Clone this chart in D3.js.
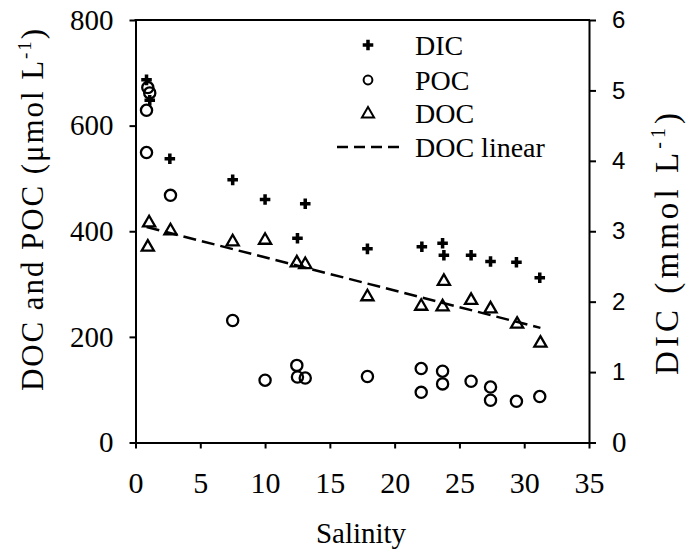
<!DOCTYPE html>
<html>
<head>
<meta charset="utf-8">
<script src="https://cdn.jsdelivr.net/npm/d3@7"></script>
<style>
  body { margin: 0; background: #fff; }
  svg { display: block; }
</style>
</head>
<body>
<script>
// salinity / DIC (mmol L-1, right axis)
var dicSal = [0.85, 1.1, 2.65, 7.5, 10.0, 12.5, 13.1, 17.9, 22.1, 23.7, 23.8, 25.9, 27.4, 29.4, 31.2];
var dicVal = [5.15, 4.86, 4.03, 3.73, 3.45, 2.90, 3.39, 2.75, 2.78, 2.83, 2.66, 2.66, 2.57, 2.56, 2.34];

// POC (umol L-1, left axis)
var pocSal = [0.95, 1.1, 0.85, 0.85, 2.7, 7.5, 10.0, 12.45, 12.5, 13.1, 17.9, 22.05, 22.05, 23.7, 23.7, 25.9, 27.4, 27.4, 29.4, 31.2];
var pocVal = [672, 662, 629, 549, 468, 231, 118, 146, 124, 122, 125, 140, 95, 135, 111, 116, 105, 80, 78, 87];

// DOC (umol L-1, left axis)
var docSal = [0.95, 1.05, 2.7, 7.5, 10.0, 12.45, 13.1, 17.9, 22.05, 23.7, 23.8, 25.9, 27.4, 29.45, 31.25];
var docVal = [370, 416, 401, 380, 383, 340, 337, 276, 258, 257, 305, 269, 253, 224, 188];

// DOC linear fit, end points
var fitSal = [0.86, 31.25];
var fitDoc = [408, 217];

var xTicks = [0, 5, 10, 15, 20, 25, 30, 35];
var yLeftTicks = [0, 200, 400, 600, 800];
var yRightTicks = [0, 1, 2, 3, 4, 5, 6];
var legendNames = ["DIC", "POC", "DOC", "DOC linear"];

var SERIF = "'Liberation Serif', 'DejaVu Serif', serif";
var SANS = "'Liberation Sans', Arial, sans-serif";

var width = 694, height = 552;
var x0 = 135.5, x1 = 589, yTop = 20, yBot = 442.5;

var svg = d3.select("body").append("svg")
    .attr("width", width)
    .attr("height", height);

var x = d3.scaleLinear().domain([0, 35]).range([x0, x1]);
var yL = d3.scaleLinear().domain([0, 800]).range([yBot, yTop]);
var yR = d3.scaleLinear().domain([0, 6]).range([yBot, yTop]);

// axes
var gx = svg.append("g")
    .attr("transform", "translate(0," + yBot + ")")
    .call(d3.axisBottom(x).tickValues(xTicks).tickSize(6).tickSizeOuter(0).tickPadding(23));
var gl = svg.append("g")
    .attr("transform", "translate(" + x0 + ",0)")
    .call(d3.axisLeft(yL).tickValues(yLeftTicks).tickSize(6).tickSizeOuter(0).tickPadding(16));
var gr = svg.append("g")
    .attr("transform", "translate(" + x1 + ",0)")
    .call(d3.axisRight(yR).tickValues(yRightTicks).tickFormat(d3.format("d"))
      .tickSize(7).tickSizeOuter(0).tickPadding(16));

[gx, gl, gr].forEach(function(g){
  g.attr("font-family", null).attr("font-size", null);
  g.select(".domain").attr("stroke", "#000").attr("stroke-width", 2);
  g.selectAll(".tick line").attr("stroke", "#000").attr("stroke-width", 2);
  g.selectAll("text").attr("fill", "#000");
});
gx.selectAll("text").style("font-family", SERIF).style("font-size", "30px");
gl.selectAll("text").style("font-family", SERIF).style("font-size", "29px");
gr.selectAll("text").style("font-family", SANS).style("font-size", "24px");
gr.selectAll("text").filter(function(d){ return d === 0; })
    .style("font-family", SERIF).style("font-size", "29px");

// top frame line
svg.append("line")
    .attr("x1", x(0) - 1).attr("x2", x(35) + 1)
    .attr("y1", yTop).attr("y2", yTop)
    .attr("stroke", "#000").attr("stroke-width", 2);

// axis titles
svg.append("text")
    .attr("x", 361).attr("y", 543)
    .attr("text-anchor", "middle")
    .style("font-family", SERIF)
    .style("font-size", "29px")
    .text("Salinity");

var lt = svg.append("text")
    .attr("transform", "translate(43,210) rotate(-90)")
    .attr("text-anchor", "middle")
    .attr("textLength", 362)
    .attr("lengthAdjust", "spacing")
    .style("font-family", SERIF)
    .style("font-size", "31px");
lt.append("tspan").text("DOC and POC (\u03bcmol L");
lt.append("tspan").attr("dy", -12).style("font-size", "19px").text("-1");
lt.append("tspan").attr("dy", 12).text(")");

var rt = svg.append("text")
    .attr("transform", "translate(678,244) rotate(-90)")
    .attr("text-anchor", "middle")
    .attr("textLength", 262)
    .attr("lengthAdjust", "spacing")
    .style("font-family", SERIF)
    .style("font-size", "33px");
rt.append("tspan").text("DIC (mmol L");
rt.append("tspan").attr("dy", -13).style("font-size", "20px").text("-1");
rt.append("tspan").attr("dy", 13).text(")");

// fit line
var line = d3.line()
    .x(function(d){ return x(d[0]); })
    .y(function(d){ return yL(d[1]); });
svg.append("path")
    .datum(d3.zip(fitSal, fitDoc))
    .attr("d", line)
    .attr("fill", "none")
    .attr("stroke", "#000")
    .attr("stroke-width", 2.5)
    .attr("stroke-dasharray", "13,6");

var cross = d3.symbol().type(d3.symbolCross).size(62);
var tri = d3.symbol().type(d3.symbolTriangle).size(64);

// DOC triangles
svg.append("g").selectAll("path")
    .data(d3.zip(docSal, docVal))
  .enter().append("path")
    .attr("transform", function(d){ return "translate(" + x(d[0]) + "," + yL(d[1]) + ")"; })
    .attr("d", tri)
    .attr("fill", "none")
    .attr("stroke", "#000")
    .attr("stroke-width", 2.3);

// POC circles
svg.append("g").selectAll("circle")
    .data(d3.zip(pocSal, pocVal))
  .enter().append("circle")
    .attr("cx", function(d){ return x(d[0]); })
    .attr("cy", function(d){ return yL(d[1]); })
    .attr("r", 5.6)
    .attr("fill", "none")
    .attr("stroke", "#000")
    .attr("stroke-width", 2.3);

// DIC crosses
svg.append("g").selectAll("path")
    .data(d3.zip(dicSal, dicVal))
  .enter().append("path")
    .attr("transform", function(d){ return "translate(" + x(d[0]) + "," + yR(d[1]) + ")"; })
    .attr("d", cross)
    .attr("fill", "#000");

// legend
var legY = [45, 80, 113, 147];
var lg = svg.append("g");
lg.append("path")
    .attr("transform", "translate(368," + legY[0] + ")")
    .attr("d", cross).attr("fill", "#000");
lg.append("circle")
    .attr("cx", 368).attr("cy", legY[1]).attr("r", 4.4)
    .attr("fill", "none").attr("stroke", "#000").attr("stroke-width", 2);
lg.append("path")
    .attr("transform", "translate(368," + (legY[2] + 1) + ")")
    .attr("d", tri).attr("fill", "none").attr("stroke", "#000").attr("stroke-width", 2);
lg.append("line")
    .attr("x1", 337).attr("x2", 401).attr("y1", legY[3]).attr("y2", legY[3])
    .attr("stroke", "#000").attr("stroke-width", 2.5)
    .attr("stroke-dasharray", "11,6");
lg.selectAll("text")
    .data(legendNames)
  .enter().append("text")
    .attr("x", 415)
    .attr("y", function(d, i){ return legY[i] + 10; })
    .style("font-family", SERIF)
    .style("font-size", "28px")
    .text(function(d){ return d; });
</script>
</body>
</html>
